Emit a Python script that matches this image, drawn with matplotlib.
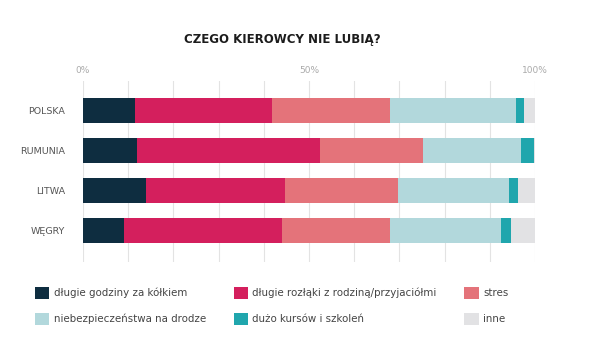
import matplotlib
matplotlib.use('Agg')
import matplotlib.pyplot as plt
import matplotlib.ticker as mticker
import numpy as np

plt.rcParams['font.family'] = ['DejaVu Sans']

# data (percent of answers)
countries = ['POLSKA', 'RUMUNIA', 'LITWA', 'WĘGRY']
godziny = [11.5, 11.9, 14.0, 9.0]
rozlaki = [30.3, 40.6, 30.8, 35.0]
stres = [26.2, 22.8, 25.0, 23.9]
niebezp = [27.7, 21.5, 24.4, 24.5]
kursy = [1.8, 2.9, 2.1, 2.2]
inne = [2.5, 0.3, 3.7, 5.4]

series_labels = ['długie godziny za kółkiem', 'długie rozłąki z rodziną/przyjaciółmi', 'stres',
                 'niebezpieczeństwa na drodze', 'dużo kursów i szkoleń', 'inne']
colors = ['#0e2d40', '#d41f5d', '#e4737a', '#b2d8dc', '#20a6ad', '#e2e2e4']
tick_vals = [0, 50, 100]
tick_labels = ['0%', '50%', '100%']

series = [godziny, rozlaki, stres, niebezp, kursy, inne]

fig = plt.figure(figsize=(5.95, 3.55), dpi=100)
ax = fig.add_axes([83 / 595, 1 - 262 / 355, 452 / 595, 181 / 355])

y = np.arange(len(countries))
left = np.zeros(len(countries))
bars = []
for vals, col, lab in zip(series, colors, series_labels):
    b = ax.barh(y, vals, left=left, height=0.625, color=col, label=lab, zorder=3)
    bars.append(b)
    left += np.array(vals)

ax.set_xlim(0, 100)
ax.set_ylim(3.7875, -0.7375)
ax.set_yticks(y)
ax.set_yticklabels(countries, fontsize=6.8, color='#555555')
ax.tick_params(axis='y', length=0, pad=13)

ax.xaxis.tick_top()
ax.xaxis.set_major_locator(mticker.FixedLocator(tick_vals))
ax.xaxis.set_major_formatter(mticker.FixedFormatter(tick_labels))
ax.xaxis.set_minor_locator(mticker.MultipleLocator(10))
ax.tick_params(axis='x', which='both', length=0, pad=4, labelsize=6.5, labelcolor='#aaaaaa')
ax.grid(True, which='both', axis='x', color='#e3e3e3', linewidth=0.8, zorder=0)
for s in ax.spines.values():
    s.set_visible(False)

fig.text(282 / 595, 1 - 39 / 355, 'CZEGO KIEROWCY NIE LUBIĄ?', ha='center', va='center',
         fontsize=8.5, fontweight='bold', color='#1c1c1c')

# legend filled row by row like the original
order = [0, 3, 1, 4, 2, 5]
fig.legend([bars[i] for i in order], [series_labels[i] for i in order], ncol=3,
           loc='upper left', bbox_to_anchor=(35 / 595, 1 - 287 / 355), frameon=False,
           fontsize=7.4, labelcolor='#444444', handlelength=1.4, handleheight=1.4,
           handletextpad=0.42, labelspacing=1.35, columnspacing=2.7,
           borderpad=0, borderaxespad=0)

fig.savefig('out.png', dpi=100)
